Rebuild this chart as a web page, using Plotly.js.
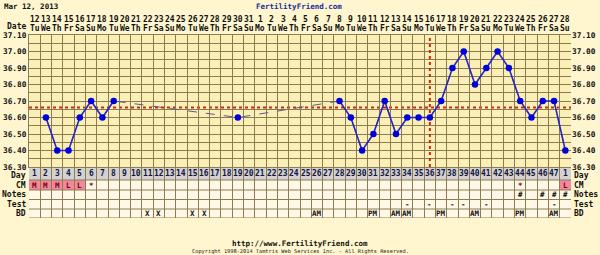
<!DOCTYPE html>
<html><head><meta charset="utf-8">
<script src="https://cdn.plot.ly/plotly-3.0.1.min.js"></script>
<style>html,body{margin:0;padding:0;background:#FFF6CF;}#chart{width:600px;height:255px;}</style>
</head><body><div id="chart"></div>
<script>
// ---- data ----
const dayLabels = ["1","2","3","4","5","6","7","8","9","10","11","12","13","14","15","16","17","18","19","20","21","22","23","24","25","26","27","28","29","30","31","32","33","34","35","36","37","38","39","40","41","42","43","44","45","46","47","1"];
const dateLabels = ["12","13","14","15","16","17","18","19","20","21","22","23","24","25","26","27","28","29","30","31","1","2","3","4","5","6","7","8","9","10","11","12","13","14","15","16","17","18","19","20","21","22","23","24","25","26","27","28"];
const weekdayLabels = ["Tu","We","Th","Fr","Sa","Su","Mo","Tu","We","Th","Fr","Sa","Su","Mo","Tu","We","Th","Fr","Sa","Su","Mo","Tu","We","Th","Fr","Sa","Su","Mo","Tu","We","Th","Fr","Sa","Su","Mo","Tu","We","Th","Fr","Sa","Su","Mo","Tu","We","Th","Fr","Sa","Su"];
const temps = [null,36.6,36.4,36.4,36.6,36.7,36.6,36.7,
  null,null,null,null,null,null,null,null,null,null,
  36.6,
  null,null,null,null,null,null,null,null,
  36.7,36.6,36.4,36.5,36.7,36.5,36.6,36.6,36.6,36.7,36.9,37.0,36.8,36.9,37.0,36.9,36.7,36.6,36.7,36.7,36.4];
const coverline = 36.66;
const ovulationDay = 36;
const yTicks = [36.3,36.4,36.5,36.6,36.7,36.8,36.9,37.0,37.1];
const cmDays = [1,2,3,4,5,6,44,48];
const cmText = ["M","M","M","L","L","*","*","L"];
const notesDays = [44,46,47,48];
const notesText = ["#","#","#","#"];
const testDays = [34,36,38,39,41,47];
const testText = ["-","-","-","-","-","-"];
const bdDays = [11,12,15,16,26,31,33,34,37,40,44,47];
const bdText = ["X","X","X","X","AM","PM","AM","AM","PM","AM","PM","AM"];
const rowNames = ["Day","CM","Notes","Test","BD"];

// ---- layout helpers (pixel geometry) ----
const W=600,H=255,ML=29,MR=29,MT=35,MB=37;
const PW=W-ML-MR, PH=H-MT-MB;
const tempBottomPx=167;
const py = p => (H-MB-p)/PH;          // page pixel y -> paper
const pxp = p => (p-ML)/PW;           // page pixel x -> paper
const rowEdges=[0,13,23,32.5,42,51];  // y2 units (pixels below temp area)
const N = dayLabels.length;
const xs = dayLabels.map((_,i)=>i+1);

const mono = "DejaVu Sans Mono, monospace";
const gridC = "#8C7C50";
const annotations=[], shapes=[];

// table row backgrounds
shapes.push({type:'rect',xref:'paper',yref:'y2',x0:0,x1:1,y0:rowEdges[0],y1:rowEdges[1],fillcolor:'#D2D2D2',line:{width:0},layer:'below'});
shapes.push({type:'rect',xref:'paper',yref:'y2',x0:0,x1:1,y0:rowEdges[1],y1:rowEdges[5],fillcolor:'#FFF8E6',line:{width:0},layer:'below'});
// pink CM cells
cmDays.forEach((d,i)=>{ if(cmText[i]==='M'||cmText[i]==='L'){
  shapes.push({type:'rect',xref:'x',yref:'y2',x0:d-0.5,x1:d+0.5,y0:rowEdges[1],y1:rowEdges[2],fillcolor:'#F2889C',line:{width:0},layer:'below'});
}});
// row separators
rowEdges.forEach(e=>shapes.push({type:'line',xref:'paper',yref:'y2',x0:0,x1:1,y0:e,y1:e,line:{color:gridC,width:1}}));
// coverline and ovulation line
shapes.push({type:'line',xref:'paper',yref:'y',x0:0,x1:1,y0:coverline,y1:coverline,line:{color:'#CC2A10',width:2,dash:'dot'},layer:'between'});
shapes.push({type:'line',xref:'x',yref:'y',x0:ovulationDay,x1:ovulationDay,y0:36.3,y1:37.1,line:{color:'#CC2A10',width:2,dash:'dot'},layer:'between'});

// top date rows
xs.forEach((x,i)=>{
  annotations.push({x:x,xref:'x',y:py(20),yref:'paper',text:'<b>'+dateLabels[i]+'</b>',showarrow:false,font:{family:mono,size:8,color:'#111'},xanchor:'center',yanchor:'middle'});
  annotations.push({x:x,xref:'x',y:py(28.5),yref:'paper',text:'<b>'+weekdayLabels[i]+'</b>',showarrow:false,font:{family:mono,size:8,color:'#111'},xanchor:'center',yanchor:'middle'});
  annotations.push({x:x,xref:'x',y:(rowEdges[0]+rowEdges[1])/2,yref:'y2',text:'<b>'+dayLabels[i]+'</b>',showarrow:false,font:{family:mono,size:8,color:'#151540'},xanchor:'center',yanchor:'middle'});
});
annotations.push({x:0,xref:'paper',xanchor:'right',xshift:-2,y:py(21),yref:'paper',text:'<b>Date</b>',showarrow:false,borderpad:0,font:{family:mono,size:8,color:'#111'}});
// table cell texts
function rowText(days,texts,row,color){
  days.forEach((d,i)=>annotations.push({x:d,xref:'x',y:(rowEdges[row]+rowEdges[row+1])/2,yref:'y2',text:'<b>'+texts[i]+'</b>',showarrow:false,font:{family:mono,size:7.5,color:color},xanchor:'center',yanchor:'middle'}));
}
rowText(cmDays,cmText,1,'#7A0010');
rowText(notesDays,notesText,2,'#111');
rowText(testDays,testText,3,'#111');
rowText(bdDays,bdText,4,'#111');
// row labels both sides
rowNames.forEach((r,i)=>{
  const yc=(rowEdges[i]+rowEdges[i+1])/2 + (i===0?1.5:0);
  annotations.push({x:0,xref:'paper',xanchor:'right',xshift:-2,y:yc,yref:'y2',text:'<b>'+r+'</b>',showarrow:false,borderpad:0,font:{family:mono,size:8,color:'#111'},yanchor:'middle'});
  annotations.push({x:1,xref:'paper',xanchor:'left',xshift:2,y:yc,yref:'y2',text:'<b>'+r+'</b>',showarrow:false,borderpad:0,font:{family:mono,size:8,color:'#111'},yanchor:'middle'});
});
// titles and footer
annotations.push({x:pxp(2),xref:'paper',xanchor:'left',y:py(6),yref:'paper',yanchor:'middle',text:'<b>Mar 12, 2013</b>',showarrow:false,font:{family:mono,size:7.5,color:'#111'}});
annotations.push({x:pxp(299),xref:'paper',xanchor:'center',y:py(6),yref:'paper',yanchor:'middle',text:'<b>FertilityFriend.com</b>',showarrow:false,font:{family:mono,size:7.5,color:'#1A2A9A'}});
annotations.push({x:pxp(300),xref:'paper',xanchor:'center',y:py(243),yref:'paper',yanchor:'middle',text:'<b>http://www.FertilityFriend.com</b>',showarrow:false,font:{family:mono,size:7.5,color:'#111'}});
annotations.push({x:pxp(300),xref:'paper',xanchor:'center',y:py(251),yref:'paper',yanchor:'middle',text:'Copyright 1998-2014 Tamtris Web Services Inc. - All Rights Reserved.',showarrow:false,font:{family:mono,size:5.3,color:'#222'}});

const traces=[
  {x:xs,y:temps,mode:'lines',connectgaps:true,line:{color:'#5A5A8C',width:1,dash:'dash'},hoverinfo:'skip',xaxis:'x',yaxis:'y'},
  {x:xs,y:temps,mode:'lines+markers',connectgaps:false,line:{color:'#2626C4',width:1.6},marker:{color:'#0000DD',size:6.5},xaxis:'x',yaxis:'y'},
  {x:[1],y:[36.3],mode:'markers',marker:{opacity:0},hoverinfo:'skip',xaxis:'x',yaxis:'y3'},
  {x:[1],y:[0],mode:'markers',marker:{opacity:0},hoverinfo:'skip',xaxis:'x',yaxis:'y2'}
];
const tempDomain=[py(tempBottomPx),1];
const yBase={range:[36.3,37.1],domain:tempDomain,tickvals:yTicks,ticktext:yTicks.map(v=>'<b>'+v.toFixed(2)+'</b>'),
  ticks:'',tickfont:{family:mono,size:7.8,color:'#111'},zeroline:false,fixedrange:true};
const layout={
  width:W,height:H,margin:{l:ML,r:MR,t:MT,b:MB,pad:0},
  paper_bgcolor:'#FFF6CF',plot_bgcolor:'#FBEFB8',showlegend:false,
  xaxis:{range:[0.5,N+0.5],tick0:0.5,dtick:1,showticklabels:false,ticks:'',showgrid:true,gridcolor:gridC,gridwidth:1,zeroline:false,
    showline:true,mirror:true,linecolor:gridC,linewidth:1},
  yaxis:Object.assign({},yBase,{side:'left',showgrid:true,gridcolor:gridC,gridwidth:1,
    minor:{dtick:0.05,tick0:36.3,showgrid:true,gridcolor:gridC,gridwidth:1,ticks:''},showline:true,linecolor:gridC}),
  yaxis3:Object.assign({},yBase,{side:'right',overlaying:'y',showgrid:false}),
  yaxis2:{domain:[0,py(tempBottomPx)],range:[rowEdges[5],0],showgrid:false,showticklabels:false,ticks:'',zeroline:false,showline:false},
  shapes:shapes,annotations:annotations
};
Plotly.newPlot('chart',traces,layout,{displayModeBar:false,staticPlot:true});
</script></body></html>
